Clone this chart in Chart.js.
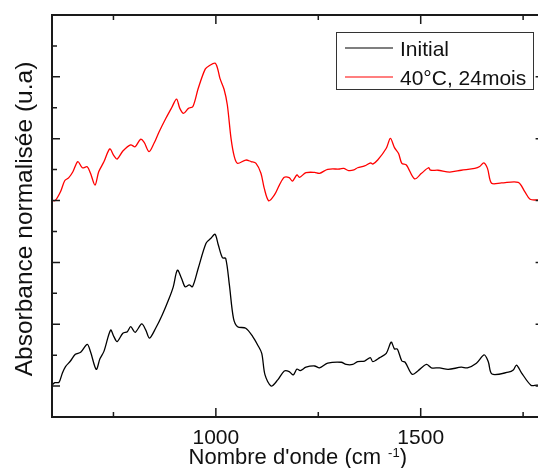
<!DOCTYPE html>
<html>
<head>
<meta charset="utf-8">
<script src="https://cdn.jsdelivr.net/npm/chart.js@4.4.1/dist/chart.umd.min.js"></script>
<style>
  html, body { margin: 0; padding: 0; background: #fff; overflow: hidden; }
  #wrap { width: 548px; height: 468px; }
</style>
</head>
<body>
<div id="wrap"><canvas id="spectra" width="548" height="468"></canvas></div>
<script>
// wavenumbers (cm-1) and normalised absorbance (offset, arbitrary units)
const waveInitial = [600, 607, 617, 625, 633, 645, 657, 670, 686, 694, 708, 717, 727, 743, 751, 759, 773, 784, 792, 803,
  819, 829, 838, 853, 869, 886, 896, 906, 916, 925, 935, 943, 957, 976, 988, 998, 1006, 1016, 1024, 1033,
  1043, 1053, 1073, 1090, 1102, 1112, 1120, 1135, 1151, 1167, 1179, 1189, 1198, 1206, 1220, 1241, 1253, 1273, 1306, 1318,
  1334, 1346, 1363, 1377, 1383, 1400, 1416, 1428, 1436, 1443, 1454, 1462, 1479, 1493, 1514, 1526, 1546, 1567, 1599, 1614,
  1636, 1655, 1665, 1674, 1714, 1726, 1734, 1746, 1769, 1783, 1800];
const absInitial = [1.03, 1.11, 1.12, 1.41, 1.63, 1.81, 2.03, 2.09, 2.35, 2.11, 1.54, 1.88, 2.13, 2.81, 2.60, 2.44, 2.71, 2.76, 2.92, 2.74,
  3.01, 2.81, 2.55, 2.87, 3.30, 3.84, 4.21, 4.75, 4.49, 4.21, 4.27, 4.21, 4.81, 5.62, 5.78, 5.91, 5.56, 5.15, 5.13, 4.27,
  3.19, 2.92, 2.87, 2.60, 2.33, 2.06, 1.36, 1.00, 1.20, 1.49, 1.47, 1.36, 1.55, 1.50, 1.61, 1.65, 1.59, 1.74, 1.77, 1.70,
  1.70, 1.79, 1.81, 1.92, 1.79, 1.92, 2.06, 2.42, 2.20, 2.20, 1.81, 1.77, 1.38, 1.49, 1.70, 1.59, 1.59, 1.54, 1.61, 1.59,
  1.74, 2.01, 1.79, 1.39, 1.45, 1.52, 1.68, 1.43, 1.03, 1.03, 1.03];

const waveAged = [600, 608, 621, 631, 641, 651, 663, 674, 686, 694, 705, 714, 727, 741, 751, 759, 773, 792, 803, 816,
  825, 837, 849, 861, 878, 892, 904, 912, 921, 933, 944, 957, 974, 984, 998, 1004, 1010, 1020, 1028, 1037,
  1045, 1053, 1073, 1086, 1098, 1110, 1118, 1129, 1143, 1155, 1167, 1179, 1187, 1198, 1204, 1220, 1241, 1253, 1273, 1302,
  1312, 1324, 1337, 1346, 1363, 1378, 1383, 1395, 1416, 1426, 1436, 1446, 1454, 1465, 1485, 1502, 1519, 1524, 1542, 1571,
  1599, 1632, 1644, 1654, 1663, 1673, 1697, 1738, 1754, 1767, 1787, 1800];
const absAged = [7.00, 7.00, 7.29, 7.64, 7.74, 7.93, 8.26, 8.06, 8.09, 7.88, 7.50, 7.93, 8.26, 8.67, 8.45, 8.34, 8.60, 8.80, 8.74, 8.98,
  8.88, 8.58, 8.85, 9.21, 9.66, 10.00, 10.28, 9.98, 9.82, 9.98, 10.04, 10.63, 11.25, 11.36, 11.44, 11.28, 10.95, 10.60, 10.09, 9.01,
  8.42, 8.20, 8.31, 8.26, 8.20, 7.88, 7.40, 6.99, 7.18, 7.50, 7.75, 7.74, 7.63, 7.83, 7.75, 7.90, 7.91, 7.88, 8.01, 8.02,
  8.04, 7.97, 7.99, 8.06, 8.12, 8.22, 8.18, 8.31, 8.69, 9.01, 8.71, 8.52, 8.20, 8.15, 7.70, 7.88, 8.06, 7.98, 7.98, 7.92,
  7.98, 8.04, 8.10, 8.22, 8.04, 7.56, 7.57, 7.59, 7.29, 7.04, 7.02, 7.02];

const seriesLabels = ['Initial', '40°C, 24mois'];
const seriesColors = ['#000000', '#ff0000'];
const xTicks = [750, 1000, 1250, 1500, 1750];
const xLabels = [1000, 1500];
const yTicks = [1, 2, 3, 4, 5, 6, 7, 8, 9, 10, 11, 12];
const yMajor = [1, 3, 5, 7, 9, 11];

const FONT = '"Liberation Sans", Arial, sans-serif';

const toPoints = (xs, ys) => xs.map((v, i) => ({ x: v, y: ys[i] }));

const frame = {
  id: 'frame',
  afterDraw(chart) {
    const { ctx, chartArea: a, scales: { x, y } } = chart;
    ctx.save();

    // box
    ctx.strokeStyle = '#1a1a1a';
    ctx.lineWidth = 2;
    ctx.strokeRect(a.left, a.top, a.right - a.left, a.bottom - a.top);

    // inward tick marks
    ctx.lineWidth = 1.5;
    ctx.beginPath();
    xTicks.forEach(v => {
      const px = x.getPixelForValue(v);
      const len = xLabels.includes(v) ? 9 : 5;
      ctx.moveTo(px, a.bottom); ctx.lineTo(px, a.bottom - len);
      ctx.moveTo(px, a.top); ctx.lineTo(px, a.top + len);
    });
    yTicks.forEach(v => {
      const py = y.getPixelForValue(v);
      const len = yMajor.includes(v) ? 8 : 5;
      ctx.moveTo(a.left, py); ctx.lineTo(a.left + len, py);
      ctx.moveTo(a.right, py); ctx.lineTo(a.right - len, py);
    });
    ctx.stroke();

    // tick labels
    ctx.fillStyle = '#111';
    ctx.font = '21px ' + FONT;
    ctx.textAlign = 'center';
    ctx.textBaseline = 'alphabetic';
    xLabels.forEach(v => ctx.fillText(String(v), x.getPixelForValue(v), 443.5));

    // x title with superscript
    const main = "Nombre d'onde (cm";
    const sup = '-1';
    ctx.font = '22px ' + FONT;
    const wMain = ctx.measureText(main).width;
    const wClose = ctx.measureText(')').width;
    ctx.font = '13px ' + FONT;
    const wSup = ctx.measureText(sup).width;
    const gap = 7;
    const total = wMain + gap + wSup + wClose;
    const tx = (a.left + a.right) / 2 - total / 2;
    ctx.textAlign = 'left';
    ctx.font = '22px ' + FONT;
    ctx.fillText(main, tx, 464);
    ctx.font = '13px ' + FONT;
    ctx.fillText(sup, tx + wMain + gap, 456.5);
    ctx.font = '22px ' + FONT;
    ctx.fillText(')', tx + wMain + gap + wSup, 464);

    // y title
    ctx.save();
    ctx.translate(31.5, 219);
    ctx.rotate(-Math.PI / 2);
    ctx.textAlign = 'center';
    ctx.font = '24.5px ' + FONT;
    ctx.fillText('Absorbance normalisée (u.a)', 0, 0);
    ctx.restore();

    // legend
    ctx.strokeStyle = '#333';
    ctx.lineWidth = 1;
    ctx.strokeRect(336.5, 32.5, 197, 57);
    ctx.font = '21px ' + FONT;
    ctx.textAlign = 'left';
    const rows = [48, 77];
    seriesLabels.forEach((lab, i) => {
      ctx.strokeStyle = seriesColors[i];
      ctx.lineWidth = 1.2;
      ctx.beginPath();
      ctx.moveTo(345, rows[i]);
      ctx.lineTo(393, rows[i]);
      ctx.stroke();
      ctx.fillStyle = '#111';
      ctx.fillText(lab, 400, rows[i] + 8);
    });

    ctx.restore();
  }
};

new Chart(document.getElementById('spectra'), {
  type: 'line',
  data: {
    datasets: [
      {
        label: seriesLabels[0],
        data: toPoints(waveInitial, absInitial),
        borderColor: seriesColors[0],
        borderWidth: 1.3,
        pointRadius: 0,
        tension: 0.3,
        fill: false,
      },
      {
        label: seriesLabels[1],
        data: toPoints(waveAged, absAged),
        borderColor: seriesColors[1],
        borderWidth: 1.3,
        pointRadius: 0,
        tension: 0.3,
        fill: false,
      },
    ],
  },
  options: {
    responsive: false,
    animation: false,
    devicePixelRatio: 1,
    layout: { padding: { left: 52, top: 15, right: 4.4, bottom: 51 } },
    plugins: { legend: { display: false }, tooltip: { enabled: false } },
    scales: {
      x: { type: 'linear', min: 600, max: 1800, display: false },
      y: { type: 'linear', min: 0, max: 13, display: false },
    },
  },
  plugins: [frame],
});
</script>
</body>
</html>
